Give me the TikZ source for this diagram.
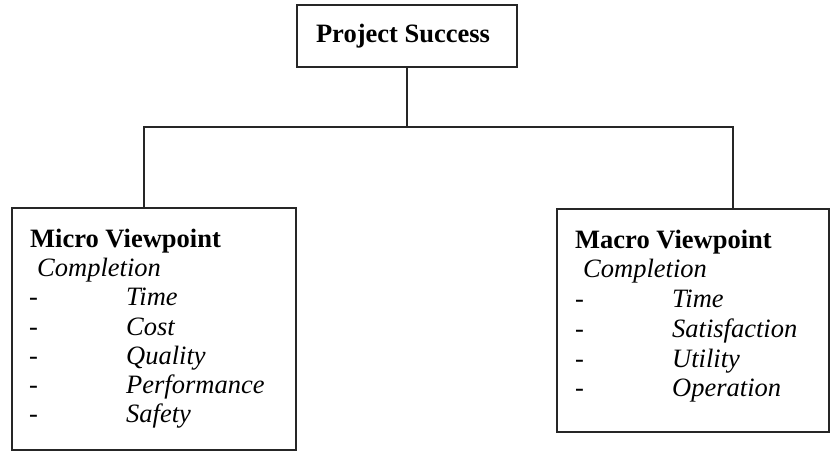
\documentclass[tikz,border=0pt]{standalone}
\usepackage{fontspec}
\setmainfont{Liberation Serif}
\begin{document}
\begin{tikzpicture}[x=1pt,y=-1pt,
  box/.style={draw=black!85, line width=1.6pt, rectangle, inner sep=0pt},
  conn/.style={draw=black!85, line width=1.6pt},
  txt/.style={anchor=base west, inner sep=0pt, font=\fontsize{26.5}{30}\selectfont},
  ttl/.style={txt, font=\fontsize{26.5}{30}\selectfont\bfseries},
  itm/.style={txt, font=\fontsize{26.5}{30}\selectfont\itshape}]
\useasboundingbox (0,0) rectangle (831,452);
% boxes
\node[box, minimum width=220pt, minimum height=62pt] (top) at (407,36) {};
\node[ttl, anchor=base] (toptxt) at (403,43) {Project Success};
\node[box, minimum width=284pt, minimum height=242pt] (micro) at (154,329) {};
\node[box, minimum width=272pt, minimum height=223pt] (macro) at (693,320.5) {};
% connectors
\coordinate (lj) at (144,127);
\coordinate (rj) at (733,127);
\draw[conn] (top.south) -- (top.south |- lj);
\draw[conn] (lj |- micro.north) -- (lj) -- (rj) -- (rj |- macro.north);
% micro text
\node[ttl] (mt) at (30,247) {Micro Viewpoint};
\node[itm] (mc) at (37,276) {Completion};
\node[txt] (md1) at (29,305) {-};
\node[itm] (m1) at (126,305) {Time};
\node[txt] (md2) at (29,335) {-};
\node[itm] (m2) at (126,335) {Cost};
\node[txt] (md3) at (29,364) {-};
\node[itm] (m3) at (126,364) {Quality};
\node[txt] (md4) at (29,393) {-};
\node[itm] (m4) at (126,393) {Performance};
\node[txt] (md5) at (29,422) {-};
\node[itm] (m5) at (126,422) {Safety};
% macro text
\node[ttl] (at) at (575,248) {Macro Viewpoint};
\node[itm] (ac) at (583,277) {Completion};
\node[txt] (ad1) at (575,307) {-};
\node[itm] (a1) at (672,307) {Time};
\node[txt] (ad2) at (575,337) {-};
\node[itm] (a2) at (672,337) {Satisfaction};
\node[txt] (ad3) at (575,367) {-};
\node[itm] (a3) at (672,367) {Utility};
\node[txt] (ad4) at (575,396) {-};
\node[itm] (a4) at (672,396) {Operation};
\end{tikzpicture}
\end{document}
